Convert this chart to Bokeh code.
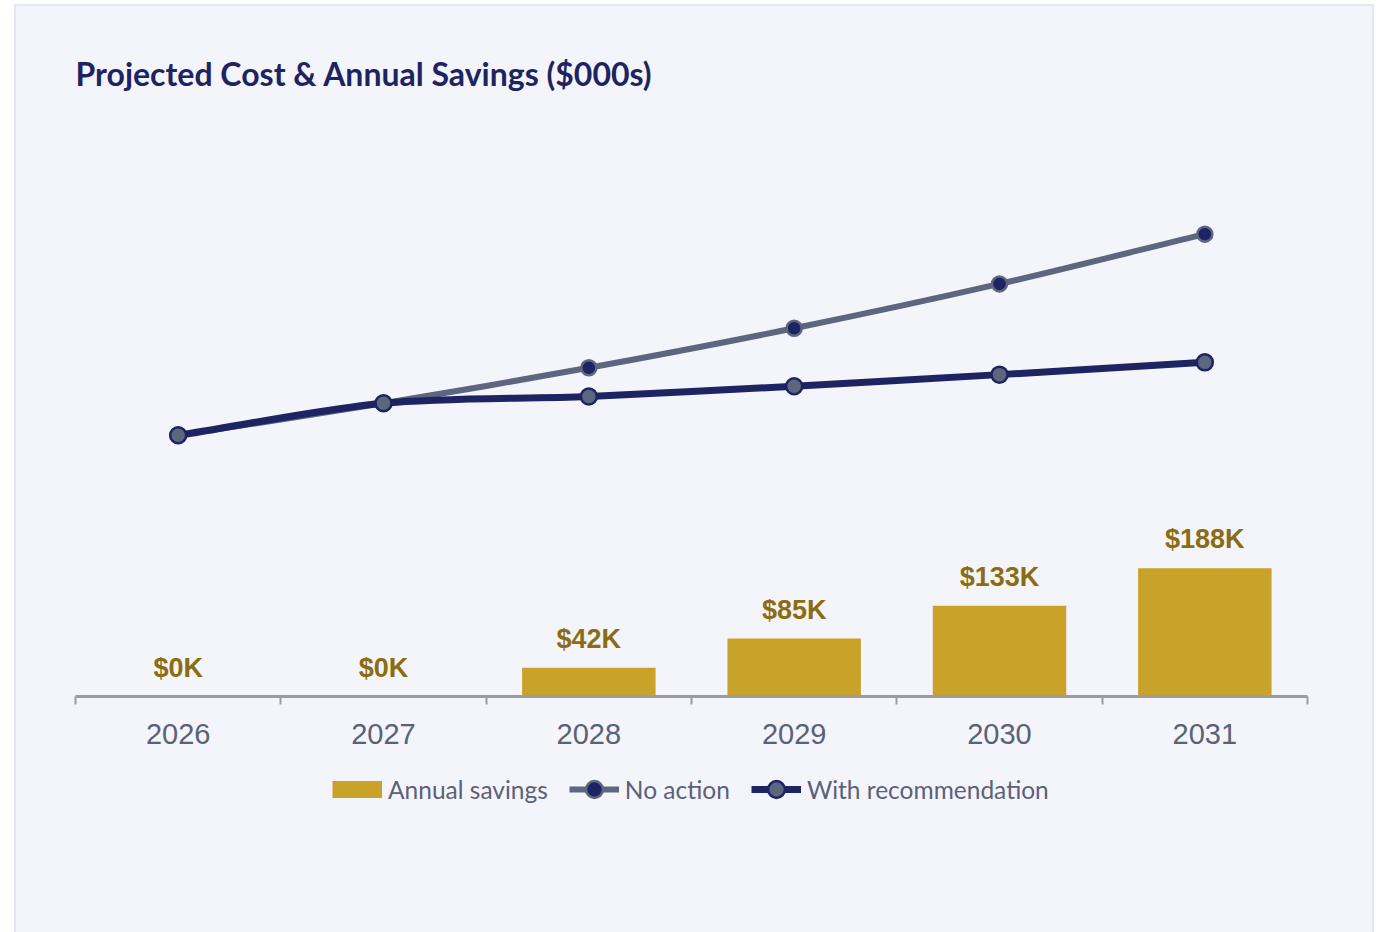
import numpy as np
from bokeh.plotting import figure
from bokeh.layouts import column
from bokeh.models import (Range1d, FixedTicker, Legend, LegendItem, ColumnDataSource)
from bokeh.embed import file_html
from bokeh.resources import INLINE
from bokeh.core.properties import value

# ---- data ----
years = ["2026", "2027", "2028", "2029", "2030", "2031"]
no_action = [383, 430, 482, 540, 605, 678]
with_rec = [383, 430, 440, 455, 472, 490]
savings = [0, 0, 42, 85, 133, 188]
savings_labels = ["$%dK" % v for v in savings]

# ---- styles ----
CARD = "#f4f5fb"
GOLD = "#c9a229"
GOLD_TXT = "#8c6c12"
NAVY = "#1e2461"
SLATE = "#5d667f"
TXT = "#5a6178"
AXIS = "#9a9ca3"
EDGE = "#e4e8f1"
TENSION = 0.3

xs = np.arange(len(years)) + 0.5
src = ColumnDataSource(dict(x=xs, year=years, na=no_action, wr=with_rec,
                            sav=savings, lab=savings_labels))

W, FRAME_W, FRAME_H = 1360, 1232, 566
Y_MAX = 830
kx, ky = FRAME_W / len(years), FRAME_H / Y_MAX


def spline_segments(x, y, t=TENSION):
    """Cubic segments through the data points (Chart.js style tension)."""
    x = np.asarray(x, float)
    y = np.asarray(y, float)
    n = len(x)
    c_prev_x, c_prev_y = np.zeros(n), np.zeros(n)
    c_next_x, c_next_y = np.zeros(n), np.zeros(n)
    for i in range(n):
        pi, ni = max(i - 1, 0), min(i + 1, n - 1)
        d01 = np.hypot((x[i] - x[pi]) * kx, (y[i] - y[pi]) * ky)
        d12 = np.hypot((x[ni] - x[i]) * kx, (y[ni] - y[i]) * ky)
        tot = d01 + d12 if d01 + d12 > 0 else 1.0
        fa, fb = t * d01 / tot, t * d12 / tot
        dx, dy = x[ni] - x[pi], y[ni] - y[pi]
        c_prev_x[i], c_prev_y[i] = x[i] - fa * dx, y[i] - fa * dy
        c_next_x[i], c_next_y[i] = x[i] + fb * dx, y[i] + fb * dy
    return dict(x0=x[:-1], y0=y[:-1], x1=x[1:], y1=y[1:],
                cx0=c_next_x[:-1], cy0=c_next_y[:-1],
                cx1=c_prev_x[1:], cy1=c_prev_y[1:])


# ================= chart =================
p = figure(width=W, height=760, output_backend="svg", toolbar_location=None,
           x_range=Range1d(0, len(years)), y_range=Range1d(0, Y_MAX),
           min_border_left=61, min_border_right=67, min_border_top=126,
           min_border_bottom=68)
p.background_fill_alpha = 0
p.border_fill_alpha = 0
p.outline_line_color = None
p.grid.visible = False
p.yaxis.visible = False

p.title.text = "Projected Cost & Annual Savings ($000s)"
p.title.text_font = "Lato"
p.title.text_font_style = "bold"
p.title.text_font_size = "32px"
p.title.text_color = NAVY
p.title.align = "left"
p.title.standoff = 75

ax = p.xaxis[0]
ax.ticker = FixedTicker(ticks=list(xs), minor_ticks=list(range(len(years) + 1)))
ax.major_label_overrides = {float(x): y for x, y in zip(xs, years)}
ax.major_tick_out = 0
ax.major_tick_in = 0
ax.minor_tick_out = 8
ax.minor_tick_in = 0
ax.minor_tick_line_color = AXIS
ax.minor_tick_line_width = 2
ax.axis_line_color = AXIS
ax.axis_line_width = 3
ax.major_label_text_font = "Liberation Sans"
ax.major_label_text_font_size = "29px"
ax.major_label_text_color = TXT
ax.major_label_standoff = 19

p.vbar(x="x", top="sav", width=0.65, bottom=0, source=src,
       fill_color=GOLD, line_color=None)
p.text(x="x", y="sav", text="lab", source=src, text_align="center",
       text_baseline="alphabetic", y_offset=-29,
       text_font=value("Liberation Sans"), text_font_style="bold",
       text_font_size="27px", text_color=GOLD_TXT)

na_src = ColumnDataSource(spline_segments(xs, no_action))
wr_src = ColumnDataSource(spline_segments(xs, with_rec))
p.bezier(x0="x0", y0="y0", x1="x1", y1="y1", cx0="cx0", cy0="cy0",
         cx1="cx1", cy1="cy1", source=na_src, line_color=SLATE, line_width=6)
p.bezier(x0="x0", y0="y0", x1="x1", y1="y1", cx0="cx0", cy0="cy0",
         cx1="cx1", cy1="cy1", source=wr_src, line_color=NAVY, line_width=7)
p.scatter(x="x", y="na", source=src, size=15, fill_color=NAVY,
          line_color=SLATE, line_width=2.5)
p.scatter(x="x", y="wr", source=src, size=16, fill_color=SLATE,
          line_color=NAVY, line_width=2.5)

# ================= legend strip =================
q = figure(width=W, height=168, output_backend="svg", toolbar_location=None,
           x_range=Range1d(0, len(years)), y_range=Range1d(0, Y_MAX),
           min_border=0)
q.background_fill_alpha = 0
q.border_fill_alpha = 0
q.outline_line_color = None
q.grid.visible = False
q.axis.visible = False

# hidden renderers that only supply the legend swatches
sw_bar = q.line(x="x", y="sav", source=src, line_color=GOLD, line_width=17,
                line_cap="butt", visible=False)
sw_na_l = q.line(x="x", y="na", source=src, line_color=SLATE, line_width=6,
                 visible=False)
sw_na_p = q.scatter(x="x", y="na", source=src, fill_color=NAVY,
                    line_color=SLATE, line_width=2.5, visible=False)
sw_wr_l = q.line(x="x", y="wr", source=src, line_color=NAVY, line_width=7,
                 visible=False)
sw_wr_p = q.scatter(x="x", y="wr", source=src, fill_color=SLATE,
                    line_color=NAVY, line_width=2.5, visible=False)

legend = Legend(items=[
    LegendItem(label="Annual savings", renderers=[sw_bar]),
    LegendItem(label="No action", renderers=[sw_na_l, sw_na_p]),
    LegendItem(label="With recommendation", renderers=[sw_wr_l, sw_wr_p]),
], orientation="horizontal", location=(257, 122))
legend.label_text_font = "Lato"
legend.label_text_font_size = "24.5px"
legend.label_text_color = TXT
legend.glyph_width = 50
legend.glyph_height = 42
legend.label_standoff = 6
legend.spacing = 21
legend.padding = 0
legend.margin = 0
legend.inactive_fill_alpha = 0
legend.background_fill_alpha = 0
legend.border_line_color = None
q.add_layout(legend, "center")

layout = column(p, q, spacing=0)
layout.margin = (4, 0, 0, 14)
layout.styles = {"background-color": CARD,
                 "box-shadow": (f"inset 2px 0 0 0 {EDGE}, inset -2px 0 0 0 {EDGE}, "
                                f"inset 0 2px 0 0 {EDGE}")}

open("out.html", "w").write(file_html(layout, INLINE))
